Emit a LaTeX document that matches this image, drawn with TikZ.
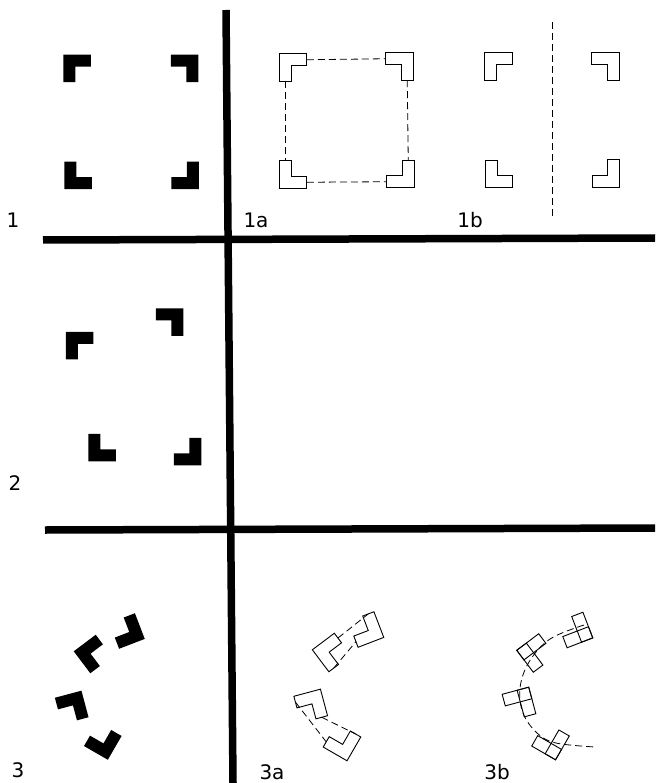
\documentclass[tikz,border=0pt]{standalone}
\usepackage{fontspec}
\setmainfont{DejaVu Sans}
\begin{document}
\begin{tikzpicture}[x=1pt,y=-1pt,
  bar/.style={line width=7.5pt,line cap=butt},
  outL/.style={draw=black,line width=0.9pt,fill=white,line join=miter},
  guide/.style={dash pattern=on 7pt off 4pt,line width=0.8pt},
  lab/.style={font=\fontsize{20}{24}\selectfont,inner sep=0pt},
  Lsolid/.pic={\fill[black] (-13.75,-13.75) -- (13.75,-13.75) -- (13.75,-1.75) -- (-1.75,-1.75) -- (-1.75,13.75) -- (-13.75,13.75) -- cycle;},
  Lout/.pic={\draw[outL] (-13.75,-13.75) -- (13.75,-13.75) -- (13.75,-1.75) -- (-1.75,-1.75) -- (-1.75,13.75) -- (-13.75,13.75) -- cycle;
    \coordinate (-r) at (13.75,-7.75); \coordinate (-d) at (-7.75,13.75);},
  Ltwo/.pic={\draw[outL] (-13.75,-13.75) rectangle (13.75,-1.75);
    \draw[outL,fill=none] (-13.75,-13.75) rectangle (-1.75,13.75);}
]
\useasboundingbox (0,0) rectangle (655,783);
% grid bars
\draw[bar] (226,10) -- (233,783);
\draw[bar] (43,240) -- (655,238);
\draw[bar] (45,530) -- (655,528);
% block 1
\pic at (77,68.5) {Lsolid};
\pic[rotate=-90] at (184.5,68.5) {Lsolid};
\pic[rotate=90] at (78,175.5) {Lsolid};
\pic[rotate=180] at (185,175.5) {Lsolid};
% block 1a
\pic (a1) at (293,67.5) {Lout};
\pic[rotate=-90] (a2) at (399.5,66.5) {Lout};
\pic[rotate=90] (a3) at (293,174.5) {Lout};
\pic[rotate=180] (a4) at (400.5,174) {Lout};
\draw[guide] (a1-r) -- (a2-d);
\draw[guide] (a1-d) -- (a3-r);
\draw[guide] (a3-d) -- (a4-r);
\draw[guide] (a2-r) -- (a4-d);
% block 1b
\pic at (498.5,66.5) {Lout};
\pic[rotate=90] at (499,174) {Lout};
\pic[rotate=-90] at (605.5,66.5) {Lout};
\pic[rotate=180] at (606,173.5) {Lout};
\coordinate (axtop) at (552,22);
\coordinate (axbot) at (552,217);
\draw[guide] (axtop) -- (axbot);
% block 2
\pic at (79.5,345.5) {Lsolid};
\pic[rotate=-90] at (169.5,322) {Lsolid};
\pic[rotate=90] at (102,447.5) {Lsolid};
\pic[rotate=180] at (187.5,451.5) {Lsolid};
% block 3
\pic[rotate=201] at (127,631) {Lsolid};
\pic[rotate=37] at (93,654) {Lsolid};
\pic[rotate=-75] at (71.7,707.5) {Lsolid};
\pic[rotate=150] at (102.8,741) {Lsolid};
% block 3a
\pic[rotate=201] (c1) at (366,629.5) {Lout};
\pic[rotate=37] (c2) at (331.6,652.5) {Lout};
\pic[rotate=-75] (c3) at (310.7,706) {Lout};
\pic[rotate=150] (c4) at (342,742) {Lout};
\draw[guide] (c2-r) -- (c1-d);
\draw[guide] (c2-d) -- (c1-r);
\draw[guide] (c3-d) -- (c4-r);
\draw[guide] (c3-r) -- (c4-d);
% block 3b
\pic[rotate=201] at (575,630) {Ltwo};
\pic[rotate=37] at (536,653) {Ltwo};
\pic[rotate=-75] at (519,704) {Ltwo};
\pic[rotate=150] at (550.5,741) {Ltwo};
\draw[guide] plot[smooth,tension=0.6] coordinates {(584,625) (550,639) (529,662) (520,688) (523,713) (537,733) (556,743) (595,747)};
% labels
\node[lab] (l1) at (13,220) {1};
\node[lab] (l1a) at (256,220) {1a};
\node[lab] (l1b) at (470,220) {1b};
\node[lab] (l2) at (15,483) {2};
\node[lab] (l3) at (18,770) {3};
\node[lab] (l3a) at (272,772) {3a};
\node[lab] (l3b) at (497,772) {3b};
\end{tikzpicture}
\end{document}
